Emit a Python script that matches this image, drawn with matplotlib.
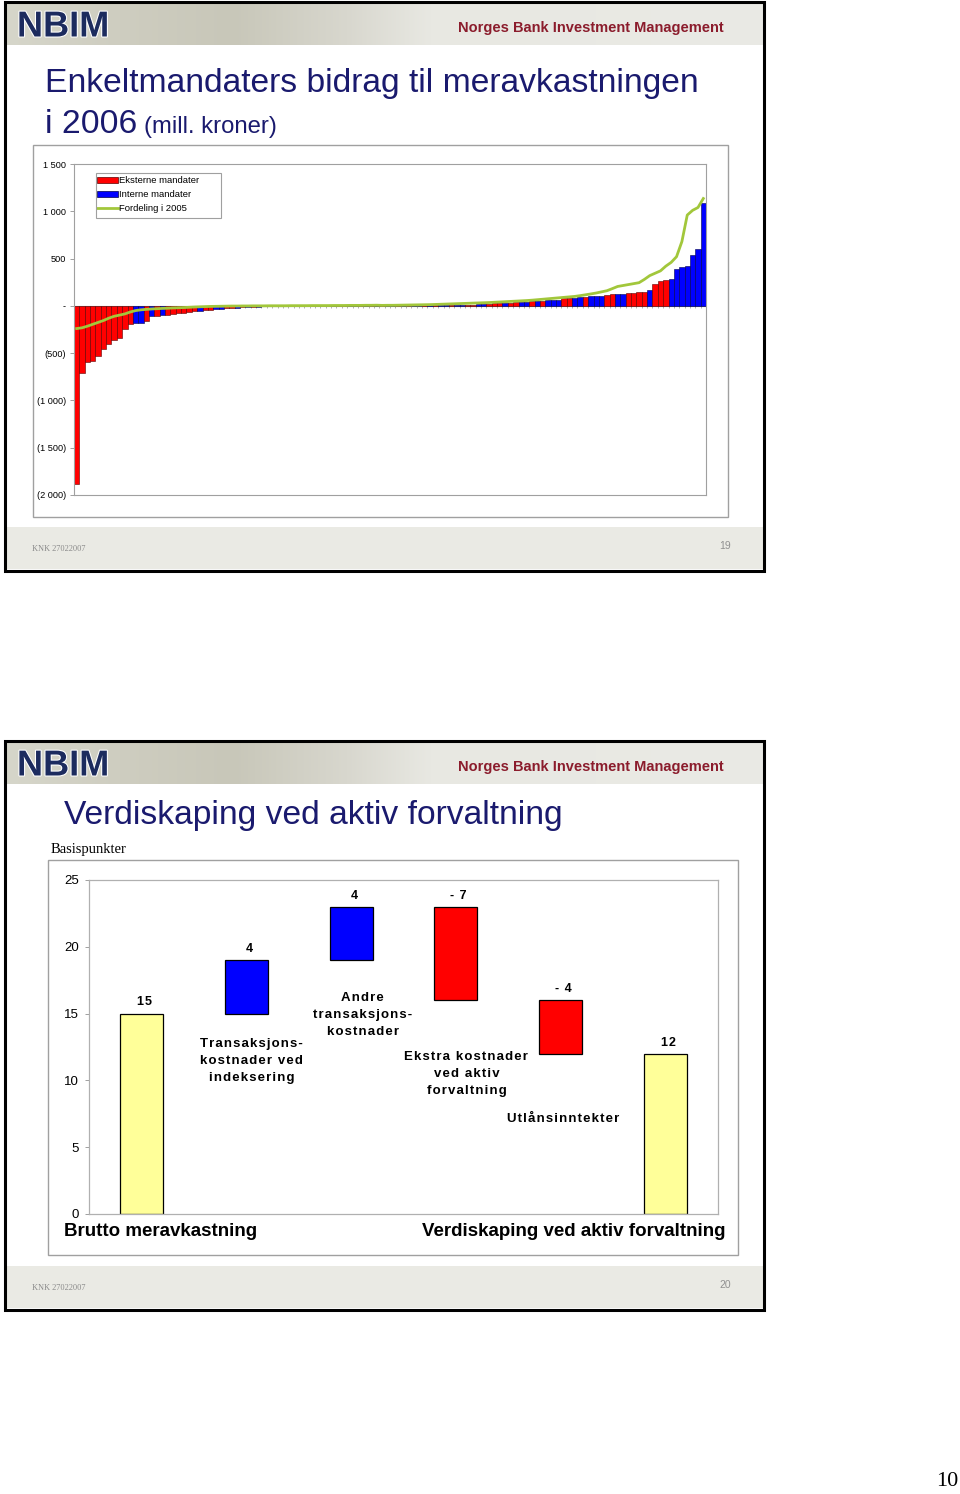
import numpy as np
import matplotlib
matplotlib.use("Agg")
import matplotlib.pyplot as plt
from matplotlib.patches import Rectangle, Patch
from matplotlib.lines import Line2D
from matplotlib import font_manager
import matplotlib.patheffects as pe

# ---------------- data ----------------
# Slide 19: contribution of single mandates (mill. NOK), sorted
mandate_values = [
    -1885, -705, -595, -585, -530, -460, -400, -360, -335, -245, -190,
    -185, -180, -160, -110, -105, -100, -95, -90, -80, -72, -65, -58, -52, -46,
    -40, -35, -30, -26, -22, -19, -16, -13, -10, -8, -6, -5, -4, -3, -2,
    -2, -1, -1, -1, 1, -1, 1, 1, -1, 1, 1, 1, 1, 1, 1, 1, 1,
    1, 1, 1, 2, 2, 2, 3, 3, 4, 4, 5, 6, 7, 8, 9, 10, 12, 14, 16, 18, 22, 26,
    28, 30, 33, 36, 40, 44, 48, 52,
    53, 58, 60, 62, 85, 88, 88, 90, 95, 100, 100, 102, 120, 123, 123, 125,
    135, 138, 142, 148, 165, 230, 262, 272, 282, 395, 412, 425, 536, 600, 1085,
]
# E = Eksterne mandater, B = Interne mandater
mandate_types = ("EEEEEEEEEEE"
                 "BBEBEB" "EEEEEE" "BEEBBEEBEBEBEBEBE"
                 "BEBEEBBEBEEBBEBEB"
                 "EBBEBEBBEBE" "BBEBBEEBB" "EEE" "BEE" "BB" "EB"
                 "EBBBEEBBEBBBEEBBEEEEBEEEBBBBBBB")
dist_2005 = [
    -240, -232, -215, -195, -175, -155, -130, -110, -98, -85,
    -65, -50, -42, -37, -33, -30, -27, -25, -22, -20,
    -18, -15, -12, -10, -8, -6, -5, -4, -3, -2,
    -2, -1, -1, 0, 0, 0, 1, 1, 1, 1,
    2, 2, 2, 2, 3, 3, 3, 3, 4, 4, 4, 5, 5, 5, 6, 6, 7,
    5, 6, 6, 7, 8, 9, 10, 11, 12, 13, 15, 17, 19, 21, 23, 25, 27, 29, 31, 33,
    35, 38, 41, 44, 47, 50, 53, 56, 60, 65,
    70, 75, 80, 85, 90, 95, 100, 108, 117, 126, 136, 148, 160, 182, 205, 215,
    225, 235, 245, 280, 320, 345, 370, 420, 460, 520, 680, 960, 1010, 1040, 1135,
]
y1_ticks = [-2000, -1500, -1000, -500, 0, 500, 1000, 1500]
y1_labels = ["(2 000)", "(1 500)", "(1 000)", "(500)", "-", "500", "1 000", "1 500"]
legend1_labels = ["Eksterne mandater", "Interne mandater", "Fordeling i 2005"]

# Slide 20: waterfall (basis points)
wf_categories = ["Brutto meravkastning",
                 "Transaksjons-\nkostnader ved\nindeksering",
                 "Andre\ntransaksjons-\nkostnader",
                 "Ekstra kostnader\nved aktiv\nforvaltning",
                 "Utlånsinntekter",
                 "Verdiskaping ved aktiv forvaltning"]
wf_values = [15, 4, 4, -7, -4, 12]
wf_kind = ["total", "step", "step", "step", "step", "total"]
wf_value_labels = ["15", "4", "4", "- 7", "- 4", "12"]
y2_ticks = [0, 5, 10, 15, 20, 25]

# ---------------- fonts ----------------
names = {f.name for f in font_manager.fontManager.ttflist}
HAS_NARROW = "Liberation Sans Narrow" in names
NARROW = ["Liberation Sans Narrow", "Liberation Sans", "DejaVu Sans"] if HAS_NARROW else ["Liberation Sans", "DejaVu Sans"]
NS = 1.0 if HAS_NARROW else 0.82   # size scale if no narrow font
SANS = ["Liberation Sans", "DejaVu Sans"]
SERIF = ["Liberation Serif", "DejaVu Serif"]
HS = "\u200a"  # hair space for letter spacing


def spaced(s):
    return "\n".join(HS.join(list(line)) for line in s.split("\n"))


W, H = 960, 1494
fig = plt.figure(figsize=(W / 100, H / 100), dpi=100)
fig.patch.set_facecolor("white")


def rect(x0, y0, x1, y1):
    return [x0 / W, 1 - y1 / H, (x1 - x0) / W, (y1 - y0) / H]


bg = fig.add_axes([0, 0, 1, 1])
bg.set_zorder(0)
bg.axis("off")

NAVY = "#1A1A6E"
GRAYLINE = "#A0A0A0"

# header gradient
stops_x = [0.0, 0.15, 0.3, 0.45, 0.56, 1.0]
stops_c = np.array([[214, 214, 202], [206, 205, 192], [200, 199, 185],
                    [216, 215, 206], [232, 232, 226], [234, 234, 229]]) / 255.0
gx = np.linspace(0, 1, 400)
grad = np.stack([np.interp(gx, stops_x, stops_c[:, c]) for c in range(3)], axis=-1)[None, :, :]

for top, bottom, page in [(2, 571, "19"), (741, 1310, "20")]:
    bg.imshow(grad, extent=(6, 763, top + 43, top + 1), aspect="auto", zorder=1)
    bg.add_patch(Rectangle((6, bottom - 44), 757, 42, fc="#EAEAE4", ec="none", zorder=1))
    bg.add_patch(Rectangle((5, top), 759, bottom - top, fill=False, ec="black", lw=2.2, zorder=3))
    bg.text(17, top + 25, "NBIM", fontsize=26, fontweight="bold", color="#1C2B5E",
            family=SANS, va="center", ha="left", zorder=4,
            path_effects=[pe.withStroke(linewidth=1.5, foreground="white")])
    bg.text(724, top + 26, "Norges Bank Investment Management", fontsize=12 * NS * 1.07,
            fontweight="bold", color="#8B1C2C", family=NARROW, va="center", ha="right", zorder=4)
    bg.text(32, bottom - 22, "KNK 27022007", fontsize=6, color="#8A8A8A", family=SERIF,
            va="center", ha="left", zorder=4)
    bg.text(731, bottom - 25, page, fontsize=7.5, color="#909090", family=NARROW,
            va="center", ha="right", zorder=4)

# titles
bg.text(45, 92, "Enkeltmandaters bidrag til meravkastningen", fontsize=29.5 * NS,
        color=NAVY, family=NARROW, va="baseline", ha="left", zorder=4)
bg.text(45, 133, "i 2006", fontsize=29.5 * NS, color=NAVY, family=NARROW,
        va="baseline", ha="left", zorder=4)
bg.text(144, 133, "(mill. kroner)", fontsize=21 * NS, color=NAVY, family=NARROW,
        va="baseline", ha="left", zorder=4)
bg.text(64, 824, "Verdiskaping ved aktiv forvaltning", fontsize=29.5 * NS, color=NAVY,
        family=NARROW, va="baseline", ha="left", zorder=4)
bg.text(51, 850, "Basispunkter", fontsize=10.5, color="black", family=SERIF,
        va="center", ha="left", zorder=4)

# chart boxes
bg.add_patch(Rectangle((33, 145), 695, 372, fill=False, ec=GRAYLINE, lw=1, zorder=2))
bg.add_patch(Rectangle((48, 860), 690, 395, fill=False, ec=GRAYLINE, lw=1, zorder=2))

# bottom labels slide 2
bg.text(64, 1232, wf_categories[0], fontsize=16 * NS * 1.03, fontweight="bold", family=NARROW,
        va="center", ha="left", zorder=4)
bg.text(726, 1232, wf_categories[-1], fontsize=16 * NS * 1.03, fontweight="bold", family=NARROW,
        va="center", ha="right", zorder=4)

# page number
bg.text(958, 1482, "10", fontsize=16, family=SERIF, va="center", ha="right", zorder=4)

bg.set_xlim(0, W)
bg.set_ylim(H, 0)

# ---------------- chart 1 ----------------
ax1 = fig.add_axes(rect(74, 164, 706, 495))
ax1.set_zorder(5)
N = len(mandate_values)
x = np.arange(N)
fc = ["#FF0000" if t == "E" else "#0000FF" for t in mandate_types]
ec = ["#5A0000" if t == "E" else "#00004A" for t in mandate_types]
ax1.axhline(0, color="#909090", lw=0.8, zorder=1)
ax1.vlines(np.arange(N + 1) - 0.5, -25, 0, color="#909090", lw=0.5, zorder=1)
ax1.bar(x, mandate_values, width=1.0, color=fc, edgecolor=ec, linewidth=0.4, zorder=2)
ax1.plot(x, dist_2005, color="#A2C73B", lw=2.0, zorder=3)
ax1.set_xlim(-0.5, N - 0.5)
ax1.set_ylim(-2000, 1500)
ax1.set_xticks([])
ax1.set_yticks(y1_ticks)
ax1.set_yticklabels(y1_labels, family=SANS)
ax1.tick_params(axis="y", length=3, color="#909090", labelsize=6.6, pad=3, width=0.6)
for s in ax1.spines.values():
    s.set_color("#A0A0A0")
    s.set_linewidth(0.8)

handles = [Patch(fc="#FF0000", ec="#5A0000", lw=0.5),
           Patch(fc="#0000FF", ec="#00004A", lw=0.5),
           Line2D([], [], color="#A2C73B", lw=2)]
leg = ax1.legend(handles, legend1_labels, loc="upper left",
                 bbox_to_anchor=(96 / W, 1 - 175 / H), bbox_transform=fig.transFigure,
                 frameon=False, prop={"family": SANS, "size": 6.8},
                 handlelength=2.2, handleheight=0.6, handletextpad=0.15,
                 labelspacing=0.55, borderpad=0.1, borderaxespad=0)
ax1.add_patch(Rectangle((96 / W, 1 - 218 / H), 125 / W, 45 / H, transform=fig.transFigure,
                        fill=False, ec=GRAYLINE, lw=0.8, clip_on=False, zorder=6))

# ---------------- chart 2 ----------------
ax2 = fig.add_axes(rect(89, 880, 718, 1214))
ax2.set_zorder(5)
ax2.patch.set_alpha(0)
bottoms, heights, tops, colors = [], [], [], []
level = 0
for v, k in zip(wf_values, wf_kind):
    if k == "total":
        bottoms.append(0)
        heights.append(v)
        tops.append(v)
        colors.append("#FFFF99")
        level = v
    else:
        if v >= 0:
            bottoms.append(level)
            heights.append(v)
            tops.append(level + v)
            colors.append("#0000FF")
        else:
            bottoms.append(level + v)
            heights.append(-v)
            tops.append(level)
            colors.append("#FF0000")
        level += v
xi = np.arange(len(wf_values))
ax2.bar(xi, heights, bottom=bottoms, width=0.41, color=colors, edgecolor="black", linewidth=0.9)
for i, lab in enumerate(wf_value_labels):
    ax2.annotate(spaced(lab), (xi[i], tops[i]), xytext=(2, 8), textcoords="offset points",
                 ha="center", va="center", fontsize=9, fontweight="bold", family=SANS)
# category labels placed inside the plot as in the original
cat_pos = [(1.05, 11.45), (2.11, 14.9), (3.1, 10.5), (4.02, 7.1)]
for (cx, cy), lab in zip(cat_pos, wf_categories[1:5]):
    ax2.text(cx, cy, spaced(lab), ha="center", va="center", fontsize=9.5, fontweight="bold",
             family=SANS, linespacing=1.55)
ax2.set_xlim(-0.5, len(wf_values) - 0.5)
ax2.set_ylim(0, 25)
ax2.set_xticks([])
ax2.set_yticks(y2_ticks)
ax2.set_yticklabels([str(t) for t in y2_ticks], family=SANS)
ax2.tick_params(axis="y", length=3, color="#909090", labelsize=9.5, pad=4, width=0.6)
for s in ax2.spines.values():
    s.set_color("#B0B0B0")
    s.set_linewidth(0.9)

fig.savefig("out.png", dpi=100)
